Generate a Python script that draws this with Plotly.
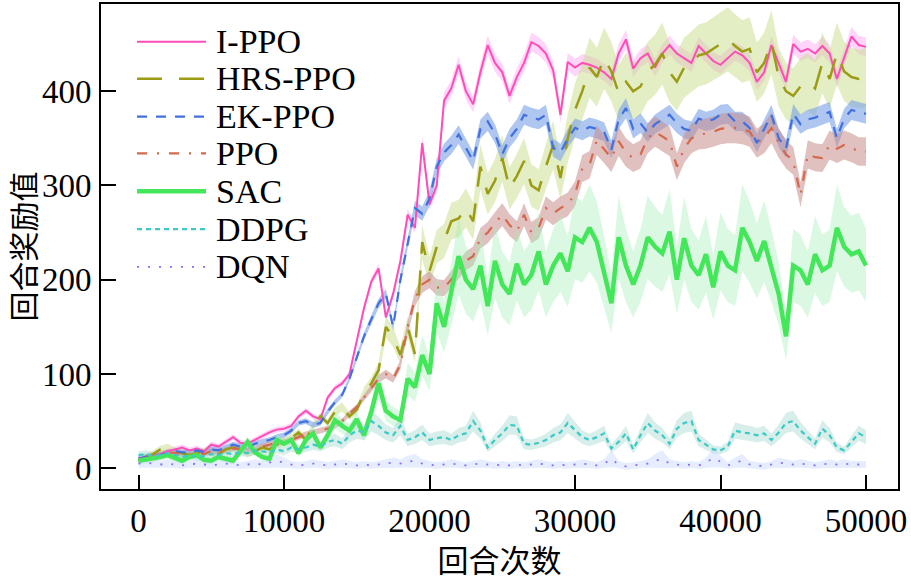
import plotly.graph_objects as go

EPISODES = list(range(0, 50001, 500))

SERIES_NAMES = ["I-PPO", "HRS-PPO", "EK-PPO", "PPO", "SAC", "DDPG", "DQN"]

I_PPO = [10, 12, 14, 15, 18, 20, 22, 19, 21, 18,
         25, 23, 28, 33, 27, 26, 30, 34, 38, 41,
         42, 45, 55, 61, 55, 52, 75, 85, 90, 100,
         135, 170, 198, 212, 160, 185, 220, 269, 255, 345,
         280, 300, 390, 403, 428, 400, 386, 420, 449, 430,
         420, 395, 415, 430, 452, 448, 440, 422, 375, 431,
         425, 430, 428, 425, 420, 413, 440, 455, 424, 435,
         440, 425, 440, 449, 440, 435, 430, 448, 440, 432,
         428, 435, 442, 438, 430, 410, 420, 449, 430, 410,
         450, 442, 445, 440, 448, 440, 413, 435, 458, 449,
         447]

HRS_PPO = [8, 12, 15, 20, 22, 18, 16, 14, 16, 18,
           17, 15, 20, 22, 20, 16, 18, 22, 20, 25,
           28, 32, 38, 30, 45, 55, 48, 60, 65, 55,
           62, 80, 90, 104, 150, 139, 120, 150, 121, 240,
           209, 235, 241, 262, 265, 276, 262, 320, 291, 305,
           329, 297, 310, 326, 300, 295, 320, 343, 308, 350,
           380, 400, 425, 415, 435, 421, 398, 410, 400, 405,
           421, 428, 440, 420, 410, 425, 431, 438, 440, 445,
           450, 455, 448, 442, 445, 420, 430, 452, 415, 400,
           395, 405, 410, 403, 430, 413, 440, 421, 415, 413,
           415]

EK_PPO = [10, 12, 13, 14, 16, 18, 17, 16, 19, 17,
          20, 19, 22, 25, 23, 22, 26, 28, 30, 33,
          35, 40, 48, 50, 46, 48, 60, 70, 78, 95,
          117, 140, 158, 175, 185, 150, 200, 240, 276, 270,
          286, 320, 335, 343, 354, 340, 326, 360, 368, 355,
          333, 350, 360, 375, 372, 370, 375, 340, 335, 350,
          361, 358, 362, 360, 357, 338, 370, 382, 360, 366,
          356, 365, 370, 375, 366, 360, 358, 371, 368, 370,
          375, 376, 368, 368, 361, 345, 360, 375, 350, 339,
          376, 365, 370, 372, 375, 378, 350, 371, 380, 378,
          376]

PPO = [9, 11, 13, 15, 17, 16, 15, 14, 16, 15,
       18, 17, 19, 21, 20, 18, 20, 23, 25, 27,
       28, 30, 33, 36, 38, 40, 42, 45, 50, 58,
       65, 75, 85, 95, 100, 95, 110, 150, 180, 195,
       200, 192, 191, 200, 210, 220, 225, 244, 250, 260,
       269, 258, 251, 269, 250, 255, 276, 270, 276, 280,
       291, 318, 322, 348, 339, 329, 347, 335, 329, 333,
       350, 357, 352, 347, 320, 339, 350, 354, 355, 357,
       360, 361, 361, 360, 357, 345, 350, 361, 345, 333,
       326, 290, 333, 330, 329, 343, 339, 343, 340, 336,
       336]

SAC = [8, 9, 10, 12, 14, 11, 8, 12, 14, 9,
       8, 12, 10, 8, 18, 28, 17, 12, 10, 30,
       26, 30, 16, 30, 37, 22, 35, 51, 45, 40,
       52, 35, 60, 90, 61, 55, 51, 95, 86, 120,
       100, 175, 150, 185, 225, 200, 190, 215, 172, 220,
       195, 185, 217, 195, 205, 230, 195, 215, 228, 209,
       245, 240, 255, 240, 209, 175, 245, 215, 195, 215,
       245, 235, 228, 251, 200, 244, 215, 205, 227, 192,
       230, 215, 210, 255, 240, 220, 241, 215, 185, 140,
       215, 210, 195, 227, 210, 215, 255, 235, 227, 230,
       215]

DDPG = [14, 15, 13, 14, 16, 14, 12, 14, 12, 13,
        15, 14, 16, 15, 17, 16, 19, 18, 17, 20,
        18, 22, 20, 22, 25, 23, 28, 30, 26, 35,
        40, 38, 50, 45, 38, 35, 45, 30, 33, 38,
        30, 32, 33, 30, 35, 37, 50, 40, 22, 30,
        37, 46, 45, 26, 25, 27, 30, 35, 38, 48,
        40, 33, 30, 33, 37, 21, 28, 37, 20, 35,
        48, 40, 35, 26, 42, 48, 50, 30, 25, 20,
        19, 23, 40, 38, 37, 35, 37, 30, 38, 48,
        50, 40, 33, 26, 42, 35, 22, 19, 28, 37,
        33]

DQN = [5, 6, 5, 4, 5, 4, 3, 4, 5, 4,
       3, 4, 5, 4, 3, 4, 5, 4, 6, 8,
       6, 4, 3, 4, 5, 4, 3, 4, 5, 4,
       3, 4, 3, 4, 5, 6, 5, 7, 8, 5,
       4, 3, 4, 5, 4, 3, 4, 5, 4, 3,
       4, 3, 4, 3, 4, 5, 4, 3, 4, 3,
       4, 5, 4, 3, 5, 10, 4, 2, 3, 4,
       5, 8, 10, 5, 4, 3, 4, 3, 6, 11,
       7, 3, 6, 8, 4, 3, 2, 4, 6, 5,
       4, 5, 4, 3, 4, 5, 4, 5, 4, 4,
       4]

# band half-width relative to the mean, with a floor
BAND_REL = [0.022, 0.075, 0.028, 0.045, 0.18, 0.22, 0.9]
BAND_MIN = [3, 4, 3, 3, 4, 4, 3.5]

X_TICKS = [0, 10000, 20000, 30000, 40000, 50000]
Y_TICKS = [0, 100, 200, 300, 400]
X_TITLE = "回合次数"
Y_TITLE = "回合奖励值"

SERIES = [I_PPO, HRS_PPO, EK_PPO, PPO, SAC, DDPG, DQN]

LINE_COLORS = ["#ff4db8", "#9b9b14", "#4170e0", "#d4694c", "#44e65a", "#3ccac6", "#8c6cff"]
BAND_COLORS = ["rgba(255,150,240,0.40)", "rgba(200,222,140,0.50)", "rgba(120,160,230,0.60)",
               "rgba(200,140,140,0.55)", "rgba(160,240,180,0.38)", "rgba(160,215,205,0.42)",
               "rgba(190,210,255,0.40)"]
DASHES = ["solid", "25px,17px", "10px,9px", "10px,10px,2px,10px", "solid", "5px,4px", "2px,9px"]
WIDTHS = [2, 2.5, 2.2, 2.2, 4.5, 2.2, 1.8]

fig = go.Figure()

for vals, rel, mn, bc in zip(SERIES, BAND_REL, BAND_MIN, BAND_COLORS):
    half = [max(mn, rel * abs(v)) for v in vals]
    upper = [v + h for v, h in zip(vals, half)]
    lower = [v - h for v, h in zip(vals, half)]
    fig.add_trace(go.Scatter(
        x=EPISODES + EPISODES[::-1], y=upper + lower[::-1],
        fill="toself", fillcolor=bc, line=dict(width=0),
        mode="lines", hoverinfo="skip", showlegend=False))

for name, vals, lc, dash, w in zip(SERIES_NAMES, SERIES, LINE_COLORS, DASHES, WIDTHS):
    fig.add_trace(go.Scatter(
        x=EPISODES, y=vals, mode="lines", name=name,
        line=dict(color=lc, width=w, dash=dash), showlegend=False))

# manual legend (layout decoration)
PLOT_L, PLOT_R, PLOT_T, PLOT_B = 101, 898, 2, 489
def px(x):
    return (x - PLOT_L) / (PLOT_R - PLOT_L)
def py(y):
    return (PLOT_B - y) / (PLOT_B - PLOT_T)

LEG_ROWS = [40, 77, 115, 152, 190, 228, 266]
for name, lc, dash, w, ry in zip(SERIES_NAMES, LINE_COLORS, DASHES, WIDTHS, LEG_ROWS):
    fig.add_shape(type="line", xref="paper", yref="paper",
                  x0=px(137), x1=px(206), y0=py(ry), y1=py(ry),
                  line=dict(color=lc, width=w, dash=dash))
    fig.add_annotation(xref="paper", yref="paper", x=px(214), y=py(ry),
                       xanchor="left", yanchor="middle", text=name, showarrow=False,
                       font=dict(family="Liberation Serif", size=34, color="black"))

# y-axis title placed as an annotation for exact position
fig.add_annotation(xref="paper", yref="paper", x=px(21), y=0.5,
                   xanchor="center", yanchor="middle", textangle=-90,
                   text=Y_TITLE, showarrow=False, borderpad=0,
                   font=dict(family="Noto Sans CJK SC", size=30, color="black"))

fig.update_layout(
    width=911, height=581, autosize=False,
    margin=dict(l=PLOT_L, r=911 - PLOT_R, t=PLOT_T, b=581 - PLOT_B),
    plot_bgcolor="white", paper_bgcolor="white",
    showlegend=False,
)
fig.update_xaxes(
    range=[-2577, 52199], tickvals=X_TICKS, ticktext=[str(t) for t in X_TICKS],
    ticks="inside", ticklen=14, tickwidth=2, tickcolor="black",
    showline=True, linecolor="black", linewidth=2, mirror=True,
    showgrid=False, zeroline=False,
    tickfont=dict(family="Liberation Serif", size=33, color="black"),
    ticklabelstandoff=1,
    title=dict(text=X_TITLE, standoff=10,
               font=dict(family="Noto Sans CJK SC", size=31, color="black")),
)
fig.update_yaxes(
    range=[-22, 492.5], tickvals=Y_TICKS, ticktext=[str(t) for t in Y_TICKS],
    ticks="inside", ticklen=15, tickwidth=2, tickcolor="black",
    showline=True, linecolor="black", linewidth=2, mirror=True,
    showgrid=False, zeroline=False,
    tickfont=dict(family="Liberation Serif", size=33, color="black"),
    ticklabelstandoff=1,
)

fig.write_html("out.html")
